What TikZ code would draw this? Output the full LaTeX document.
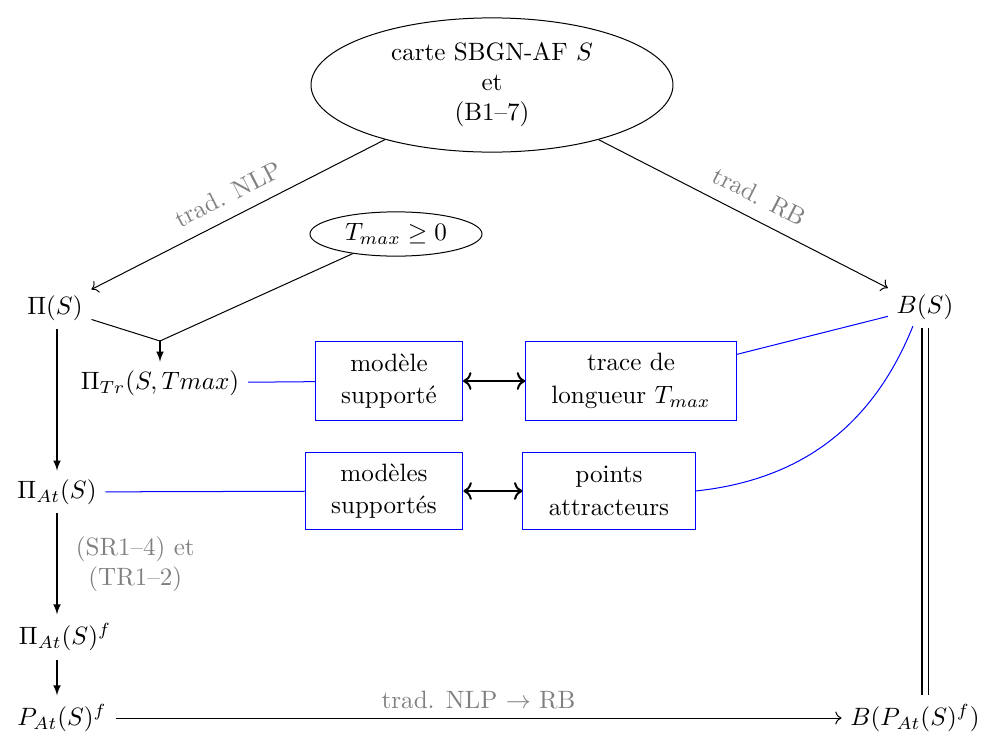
\documentclass[tikz,border=0pt]{standalone}
\usetikzlibrary{shapes.geometric,arrows.meta}
\begin{document}
\begin{tikzpicture}[x=0.014cm,y=-0.014cm,
  lab/.style={text=gray},
  bbox/.style={draw=blue,align=center,inner sep=0pt},
  bl/.style={draw=blue},
  va/.style={-latex},
  da/.style={<->,thick}]
\useasboundingbox (0,0) rectangle (992,734);
% nodes
\node[draw,ellipse,minimum width=5.07cm,minimum height=1.88cm,inner sep=0pt,align=center] (S) at (492,85) {carte SBGN-AF $S$\\et\\(B1--7)};
\node[draw,ellipse,minimum width=2.41cm,minimum height=0.62cm,inner sep=0pt] (T) at (396,234) {$T_{max}\geq 0$};
\node (PiS) at (55,308) {$\Pi(S)$};
\node (BS) at (925,307) {$B(S)$};
\node (PiTr) at (160,383) {$\Pi_{Tr}(S,Tmax)$};
\node[bbox,minimum width=2.06cm,minimum height=1.12cm] (b1) at (389,381) {mod\`ele\\[1pt]support\'e};
\node[bbox,minimum width=2.95cm,minimum height=1.12cm] (b2) at (631,381) {trace de\\[1pt]longueur $T_{max}$};
\node (PiAt) at (57,492) {$\Pi_{At}(S)$};
\node[bbox,minimum width=2.21cm,minimum height=1.09cm] (b3) at (384,491) {mod\`eles\\[1pt]support\'es};
\node[bbox,minimum width=2.41cm,minimum height=1.09cm] (b4) at (609,491) {points\\[1pt]attracteurs};
\node (PiAtf) at (65,637) {$\Pi_{At}(S)^f$};
\node (PAtf) at (62,718) {$P_{At}(S)^f$};
\node (BP) at (915,718) {$B(P_{At}(S)^f)$};
\coordinate (m) at (160,341);
% connectors
\draw[->] (S) -- node[lab,sloped,above,pos=0.5,yshift=2pt] {trad. NLP} (PiS);
\draw[->] (S) -- node[lab,sloped,above,pos=0.52,yshift=2pt] {trad. RB} (BS);
\draw (PiS) -- (m);
\draw (T) -- (m);
\draw[va] (m) -- (PiTr.north);
\draw[bl] (PiTr) -- (b1);
\draw[da] (b1) -- (b2);
\draw[bl] (b2) -- (BS);
\draw[va] (PiS.south -| 57,0) -- (PiAt.north -| 57,0);
\draw[bl] (PiAt) -- (b3);
\draw[da] (b3) -- (b4);
\draw[bl] (b4.east) to[out=6,in=-112] ([xshift=-0.17cm,yshift=0.03cm]BS.south);
\draw[va] (PiAt.south -| 57,0) -- node[lab,right,align=center,xshift=4pt] {(SR1--4) et\\(TR1--2)} (PiAtf.north -| 57,0);
\draw[va] (PiAtf.south -| 57,0) -- (PAtf.north -| 57,0);
\draw[->] (PAtf) -- node[lab,above] {trad. NLP $\to$ RB} (BP);
\draw[double,double distance=2pt,thin] (BS.south) -- (BS.south |- BP.north);
\end{tikzpicture}
\end{document}
